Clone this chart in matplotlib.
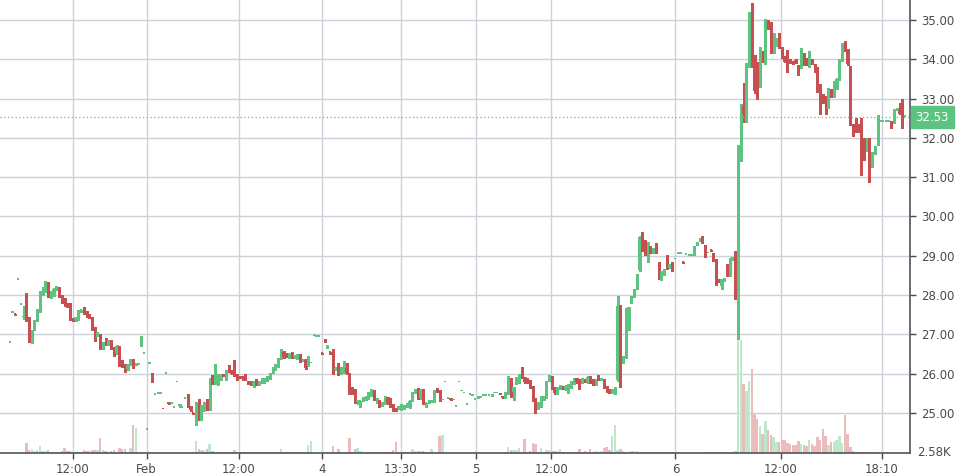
import numpy as np
import matplotlib
matplotlib.use("Agg")
import matplotlib.pyplot as plt
import matplotlib.transforms as mtransforms

# OHLC per bar
opens = [
    26.79, 27.55, 27.51, 28.39, 27.75, 27.43, 27.46, 27.41, 26.82, 27.14,
    27.37, 27.58, 28.01, 28.09, 28.28, 28.04, 28.05, 28.16, 28.17, 27.98,
    27.83, 27.79, 27.79, 27.40, 27.37, 27.38, 27.59, 27.62, 27.58, 27.50,
    27.41, 27.16, 26.98, 26.99, 26.65, 26.79, 26.75, 26.84, 26.65, 26.52,
    26.69, 26.23, 26.22, 26.13, 26.23, 26.34, 26.22, 26.23, 26.71, 26.50,
    24.56, 26.25, 26.01, 25.46, 25.48, 25.48, 25.11, 26.00, 25.26, 25.24,
    25.12, 25.78, 25.18, 25.12, 25.36, 25.46, 25.17, 25.00, 24.87, 25.18,
    24.85, 25.10, 25.27, 25.12, 25.82, 25.76, 25.79, 25.86, 25.98, 25.86,
    26.09, 26.07, 26.04, 25.98, 25.93, 25.93, 25.94, 25.80, 25.79, 25.72,
    25.82, 25.74, 25.78, 25.78, 25.84, 25.88, 26.03, 26.12, 26.19, 26.38,
    26.56, 26.50, 26.42, 26.51, 26.42, 26.40, 26.44, 26.33, 26.35, 26.22,
    26.26, 26.97, 26.94, 26.93, 26.53, 26.88, 26.67, 26.55, 26.32, 26.10,
    26.20, 26.00, 26.03, 26.15, 26.00, 25.63, 25.58, 25.28, 25.28, 25.33,
    25.35, 25.38, 25.46, 25.56, 25.32, 25.31, 25.20, 25.25, 25.39, 25.35,
    25.21, 25.10, 25.11, 25.13, 25.12, 25.16, 25.14, 25.33, 25.53, 25.61,
    25.37, 25.58, 25.23, 25.27, 25.29, 25.31, 25.57, 25.57, 25.32, 25.78,
    25.36, 25.37, 25.32, 25.15, 25.78, 25.55, 25.50, 25.21, 25.45, 25.43,
    25.33, 25.38, 25.38, 25.43, 25.43, 25.43, 25.43, 25.50, 25.50, 25.50,
    25.43, 25.40, 25.50, 25.85, 25.54, 25.76, 25.79, 25.96, 25.89, 25.86,
    25.81, 25.67, 25.37, 25.18, 25.20, 25.34, 25.41, 25.84, 25.91, 25.63,
    25.50, 25.63, 25.67, 25.60, 25.64, 25.66, 25.75, 25.88, 25.84, 25.79,
    25.84, 25.79, 25.93, 25.84, 25.72, 25.88, 25.85, 25.85, 25.66, 25.58,
    25.52, 25.50, 25.84, 27.70, 26.30, 26.43, 27.66, 27.83, 27.96, 28.17,
    28.64, 29.45, 29.38, 29.09, 29.22, 29.10, 29.30, 28.82, 28.40, 28.53,
    29.00, 28.70, 28.82, 28.91, 29.04, 29.04, 28.84, 29.03, 29.00, 29.00,
    29.04, 29.30, 29.40, 29.44, 29.19, 29.06, 29.15, 29.06, 28.90, 28.40,
    28.22, 28.38, 28.78, 28.51, 28.90, 29.08, 27.96, 31.73, 32.81, 32.58,
    33.85, 35.17, 33.85, 33.90, 33.32, 34.17, 33.90, 34.83, 34.79, 34.17,
    34.36, 34.49, 34.29, 34.06, 34.00, 33.98, 33.94, 33.98, 33.83, 33.81,
    34.15, 34.02, 33.83, 34.00, 33.86, 33.69, 33.35, 33.10, 33.05, 32.79,
    33.22, 33.06, 33.26, 33.49, 33.98, 34.40, 34.24, 33.77, 32.33, 32.33,
    32.33, 32.03, 31.99, 31.68, 31.99, 31.27, 31.61, 31.85, 32.41, 32.41,
    32.41, 32.41, 32.41, 32.41, 32.72, 32.72, 32.98, 32.53,
]
highs = [
    26.79, 27.55, 27.51, 28.39, 27.75, 27.72, 28.05, 27.45, 27.12, 27.36,
    27.65, 28.10, 28.20, 28.36, 28.32, 28.10, 28.18, 28.24, 28.20, 28.00,
    27.92, 27.80, 27.80, 27.42, 27.45, 27.62, 27.63, 27.70, 27.60, 27.52,
    27.43, 27.18, 27.05, 27.00, 26.80, 26.90, 26.86, 26.86, 26.68, 26.73,
    26.71, 26.35, 26.24, 26.25, 26.37, 26.36, 26.24, 26.23, 26.95, 26.50,
    24.56, 26.25, 26.02, 25.46, 25.48, 25.48, 25.11, 26.00, 25.26, 25.27,
    25.12, 25.78, 25.22, 25.12, 25.36, 25.47, 25.18, 25.01, 25.28, 25.35,
    25.20, 25.28, 25.35, 25.90, 25.96, 26.24, 25.98, 25.99, 26.00, 26.10,
    26.22, 26.09, 26.35, 26.00, 25.95, 25.95, 26.00, 25.82, 25.81, 25.80,
    25.86, 25.80, 25.90, 25.88, 25.95, 26.02, 26.16, 26.25, 26.40, 26.62,
    26.58, 26.52, 26.52, 26.54, 26.46, 26.50, 26.50, 26.36, 26.37, 26.45,
    26.26, 26.97, 26.94, 26.93, 26.53, 26.89, 26.74, 26.56, 26.62, 26.17,
    26.26, 26.16, 26.31, 26.27, 26.02, 25.65, 25.60, 25.31, 25.31, 25.41,
    25.43, 25.53, 25.60, 25.58, 25.38, 25.33, 25.27, 25.43, 25.41, 25.37,
    25.23, 25.12, 25.18, 25.22, 25.20, 25.24, 25.33, 25.52, 25.62, 25.63,
    25.60, 25.60, 25.26, 25.33, 25.32, 25.58, 25.64, 25.59, 25.32, 25.78,
    25.36, 25.37, 25.33, 25.15, 25.78, 25.55, 25.50, 25.21, 25.45, 25.43,
    25.33, 25.42, 25.38, 25.43, 25.43, 25.43, 25.48, 25.50, 25.50, 25.50,
    25.43, 25.52, 25.94, 25.88, 25.67, 25.92, 25.98, 26.17, 25.92, 25.90,
    25.83, 25.69, 25.39, 25.28, 25.43, 25.43, 25.80, 25.97, 25.93, 25.65,
    25.65, 25.70, 25.69, 25.70, 25.73, 25.81, 25.89, 25.90, 25.86, 25.90,
    25.86, 25.94, 25.95, 25.86, 25.86, 25.97, 25.90, 25.87, 25.68, 25.60,
    25.62, 25.65, 27.97, 27.75, 26.45, 27.68, 27.70, 27.98, 28.16, 28.53,
    29.51, 29.60, 29.40, 29.34, 29.24, 29.20, 29.32, 28.84, 28.62, 28.66,
    29.02, 28.80, 28.84, 28.91, 29.04, 29.04, 28.84, 29.03, 29.00, 29.00,
    29.24, 29.36, 29.43, 29.50, 29.28, 29.06, 29.15, 29.08, 28.92, 28.42,
    28.42, 28.43, 28.80, 28.94, 28.98, 29.12, 31.82, 32.86, 33.39, 33.90,
    35.20, 35.44, 34.10, 33.92, 34.32, 34.20, 35.03, 35.00, 34.95, 34.66,
    34.55, 34.66, 34.31, 34.08, 34.25, 34.00, 33.96, 34.00, 33.85, 34.28,
    34.17, 34.04, 34.22, 34.02, 33.88, 33.81, 33.37, 33.12, 33.07, 33.28,
    33.24, 33.45, 33.52, 34.00, 34.42, 34.47, 34.26, 33.83, 32.35, 32.50,
    32.35, 32.50, 32.01, 32.00, 32.01, 31.63, 31.80, 32.58, 32.41, 32.41,
    32.41, 32.41, 32.43, 32.73, 32.75, 32.90, 33.00, 32.53,
]
lows = [
    26.79, 27.55, 27.49, 28.39, 27.75, 27.40, 27.33, 26.80, 26.78, 27.12,
    27.35, 27.56, 28.00, 28.07, 27.96, 27.92, 27.98, 28.14, 27.96, 27.80,
    27.72, 27.70, 27.36, 27.35, 27.35, 27.36, 27.57, 27.52, 27.45, 27.42,
    27.12, 26.83, 26.96, 26.62, 26.63, 26.73, 26.72, 26.62, 26.45, 26.50,
    26.20, 26.18, 26.05, 26.10, 26.21, 26.15, 26.21, 26.23, 26.70, 26.50,
    24.56, 26.25, 25.78, 25.46, 25.48, 25.48, 25.09, 26.00, 25.23, 25.24,
    25.12, 25.78, 25.16, 25.12, 25.36, 25.14, 25.05, 24.96, 24.69, 24.82,
    24.82, 25.05, 25.08, 25.08, 25.74, 25.74, 25.70, 25.84, 25.94, 25.84,
    26.05, 25.98, 25.93, 25.84, 25.88, 25.85, 25.83, 25.73, 25.70, 25.65,
    25.70, 25.72, 25.76, 25.76, 25.82, 25.86, 26.01, 26.10, 26.17, 26.36,
    26.40, 26.42, 26.40, 26.40, 26.40, 26.38, 26.30, 26.31, 26.12, 26.20,
    26.26, 26.97, 26.94, 26.93, 26.51, 26.80, 26.65, 26.50, 26.00, 26.08,
    25.97, 25.98, 26.01, 25.99, 25.47, 25.49, 25.26, 25.22, 25.14, 25.31,
    25.33, 25.36, 25.44, 25.33, 25.24, 25.16, 25.18, 25.23, 25.22, 25.16,
    25.06, 25.06, 25.09, 25.08, 25.10, 25.14, 25.12, 25.31, 25.51, 25.35,
    25.35, 25.22, 25.14, 25.25, 25.27, 25.29, 25.54, 25.30, 25.32, 25.78,
    25.36, 25.34, 25.32, 25.15, 25.78, 25.55, 25.50, 25.21, 25.45, 25.43,
    25.33, 25.38, 25.38, 25.43, 25.43, 25.43, 25.43, 25.50, 25.50, 25.47,
    25.38, 25.38, 25.48, 25.40, 25.34, 25.74, 25.77, 25.90, 25.77, 25.75,
    25.63, 25.31, 25.00, 25.10, 25.15, 25.32, 25.39, 25.82, 25.61, 25.48,
    25.48, 25.61, 25.60, 25.58, 25.50, 25.64, 25.73, 25.77, 25.60, 25.77,
    25.78, 25.77, 25.77, 25.70, 25.70, 25.83, 25.83, 25.64, 25.54, 25.50,
    25.50, 25.48, 25.80, 25.66, 26.28, 26.40, 27.10, 27.80, 27.94, 28.15,
    28.60, 29.12, 29.02, 28.85, 29.08, 29.08, 29.08, 28.40, 28.38, 28.51,
    28.67, 28.68, 28.60, 28.91, 29.04, 29.04, 28.82, 29.03, 29.00, 29.00,
    29.02, 29.28, 29.38, 29.33, 28.98, 29.06, 29.13, 28.86, 28.26, 28.33,
    28.15, 28.36, 28.49, 28.49, 28.88, 27.90, 26.88, 31.41, 32.41, 32.40,
    33.80, 33.80, 33.15, 32.98, 33.30, 33.94, 33.88, 34.78, 34.15, 34.15,
    34.34, 34.30, 34.03, 33.92, 33.68, 33.90, 33.89, 33.90, 33.60, 33.79,
    33.86, 33.86, 33.81, 33.88, 33.67, 33.18, 32.60, 32.88, 32.60, 32.77,
    33.03, 33.04, 33.24, 33.47, 33.96, 34.22, 33.86, 32.33, 32.05, 32.14,
    32.14, 31.06, 31.45, 31.66, 30.88, 31.25, 31.59, 31.83, 32.41, 32.41,
    32.41, 32.41, 32.26, 32.39, 32.70, 32.60, 32.26, 32.53,
]
closes = [
    26.79, 27.55, 27.49, 28.39, 27.75, 27.46, 27.44, 26.86, 27.11, 27.33,
    27.60, 28.01, 28.14, 28.30, 27.98, 28.08, 28.16, 28.21, 27.98, 27.83,
    27.77, 27.72, 27.38, 27.37, 27.43, 27.60, 27.61, 27.55, 27.48, 27.43,
    27.15, 27.00, 27.02, 26.65, 26.77, 26.75, 26.84, 26.65, 26.48, 26.71,
    26.22, 26.21, 26.12, 26.23, 26.35, 26.22, 26.23, 26.23, 26.94, 26.50,
    24.56, 26.25, 25.80, 25.46, 25.48, 25.48, 25.09, 26.00, 25.23, 25.27,
    25.12, 25.78, 25.21, 25.12, 25.36, 25.16, 25.07, 24.97, 25.18, 24.84,
    25.19, 25.25, 25.14, 25.88, 25.76, 25.86, 25.95, 25.96, 25.95, 26.09,
    26.06, 26.00, 25.95, 25.86, 25.90, 25.87, 25.85, 25.75, 25.72, 25.79,
    25.72, 25.78, 25.86, 25.86, 25.93, 26.01, 26.14, 26.23, 26.38, 26.56,
    26.42, 26.44, 26.50, 26.42, 26.44, 26.44, 26.32, 26.35, 26.14, 26.35,
    26.26, 26.97, 26.94, 26.93, 26.51, 26.82, 26.73, 26.52, 26.08, 26.15,
    26.00, 26.14, 26.29, 26.01, 25.63, 25.51, 25.28, 25.30, 25.30, 25.39,
    25.42, 25.51, 25.58, 25.35, 25.36, 25.18, 25.25, 25.41, 25.24, 25.18,
    25.08, 25.08, 25.17, 25.20, 25.18, 25.22, 25.31, 25.50, 25.59, 25.37,
    25.58, 25.24, 25.25, 25.31, 25.30, 25.56, 25.55, 25.32, 25.32, 25.78,
    25.36, 25.34, 25.33, 25.15, 25.78, 25.55, 25.50, 25.21, 25.45, 25.43,
    25.33, 25.42, 25.38, 25.43, 25.43, 25.43, 25.48, 25.50, 25.50, 25.47,
    25.38, 25.50, 25.92, 25.55, 25.67, 25.90, 25.96, 25.92, 25.79, 25.78,
    25.65, 25.33, 25.20, 25.26, 25.41, 25.41, 25.77, 25.92, 25.63, 25.50,
    25.63, 25.68, 25.62, 25.68, 25.72, 25.79, 25.88, 25.79, 25.75, 25.88,
    25.80, 25.92, 25.79, 25.72, 25.84, 25.85, 25.88, 25.66, 25.56, 25.52,
    25.60, 25.63, 27.72, 26.39, 26.43, 27.66, 27.69, 27.96, 28.14, 28.51,
    29.49, 29.15, 29.05, 29.32, 29.10, 29.18, 29.10, 28.43, 28.60, 28.64,
    28.69, 28.78, 28.62, 28.91, 29.04, 29.04, 28.82, 29.03, 29.00, 29.00,
    29.23, 29.35, 29.42, 29.35, 29.00, 29.06, 29.13, 28.88, 28.28, 28.35,
    28.40, 28.41, 28.51, 28.92, 28.96, 27.96, 31.56, 32.78, 32.61, 33.85,
    35.17, 33.85, 33.20, 33.00, 34.19, 33.96, 34.83, 34.80, 34.17, 34.32,
    34.41, 34.32, 34.05, 33.94, 33.90, 33.92, 33.91, 33.92, 33.71, 34.25,
    33.88, 33.88, 34.07, 33.90, 33.69, 33.26, 32.97, 32.90, 32.85, 33.26,
    33.05, 33.26, 33.50, 33.98, 34.39, 34.24, 33.88, 32.35, 32.28, 32.16,
    32.16, 31.59, 31.59, 31.98, 30.97, 31.61, 31.78, 32.00, 32.41, 32.41,
    32.41, 32.41, 32.28, 32.71, 32.74, 32.62, 32.28, 32.53,
]
volumes = [
    0, 0, 0, 0, 0, 0, 10, 3.3, 4.3, 2,
    2.7, 6.7, 2, 2, 2.7, 1, 1, 1, 1, 1.5,
    4.7, 1.5, 1.5, 0.5, 0.5, 0.5, 0.5, 2.7, 1.5, 2,
    2.7, 3.3, 3.3, 14.7, 2.7, 2, 1, 2, 3.3, 1,
    5.3, 4, 4, 1, 5.3, 27.7, 24.7, 0, 0, 0,
    0, 0, 0, 0, 0, 0, 0, 0, 0, 0,
    0, 0, 0, 0, 0, 0, 0, 0.5, 11.7, 4.3,
    2.7, 3.3, 4.3, 8.7, 1.5, 1, 1, 1, 1, 1,
    1, 1, 2.7, 1, 1, 1, 1, 1, 1, 0.5,
    1, 0.5, 0.5, 0.5, 0.5, 1, 1, 1, 1, 4.3,
    1, 1, 0.5, 0.5, 0.5, 0.5, 1, 1, 1, 7.7,
    11.7, 0, 0, 0, 0, 0, 0, 0, 6.7, 1,
    4.3, 1, 1, 1, 15.3, 1, 4.3, 5.3, 2, 1,
    1, 1, 0.5, 0.5, 0.5, 1, 1, 1, 1, 1,
    2.7, 10.7, 0.5, 0.5, 0.5, 0.5, 1, 3.7, 2, 2,
    2, 2, 1, 1, 4, 1, 1, 16.7, 17.7, 0,
    0, 0, 0, 0, 0, 0, 0, 0, 0, 0,
    0, 0, 0, 0, 0, 0, 0, 0, 0, 0,
    0, 0.5, 6, 3.3, 3.3, 3.3, 5.3, 1, 13.7, 1,
    2, 10.3, 9.3, 1, 5.3, 1, 2.7, 2.7, 2, 2,
    2, 4.3, 1, 1, 1, 1, 1, 1, 4.3, 1,
    1.5, 1, 4.3, 1, 2, 1, 2, 5.3, 6, 3,
    16.7, 27.7, 3, 4, 2, 1, 1, 2, 2, 2,
    1, 1, 1, 1, 0.5, 0.5, 0.5, 0.5, 0.5, 0.5,
    0.5, 0.5, 0.5, 0, 0, 0, 0, 0, 0, 0,
    0, 0, 0, 0, 0.7, 0.7, 0.7, 0.7, 0.7, 0.7,
    0.7, 0.7, 0.7, 0.7, 0.7, 1.5, 112.7, 112.7, 69.3, 61.7,
    71.7, 83.7, 39.3, 34.3, 26.7, 19.3, 32, 22.7, 17.7, 16,
    11, 11, 13.3, 12.7, 10, 8.7, 7.7, 7.7, 12, 9.3,
    7.7, 6.7, 12.7, 9, 7, 16, 12.7, 24.3, 16.7, 8,
    11, 11, 12.7, 16.7, 10, 37.7, 19.3, 6, 2, 1,
    1, 1, 0.7, 0.5, 0.5, 0.5, 0.3, 0, 0, 0,
    0, 0, 0, 0, 0, 0, 0, 0,
]

# time labels sit on the bar they belong to
tick_pos = [23, 50, 83.6, 114.2, 142.7, 170.3, 197.8, 243.1, 281.6, 318.4]
tick_labels = ['12:00', 'Feb', '12:00', '4', '13:30', '5', '12:00', '6', '12:00', '18:10']
price_ticks = [25, 26, 27, 28, 29, 30, 31, 32, 33, 34, 35]
last_price = 32.53
vol_label = '2.58K'

up_color = '#5cc480'
down_color = '#c84f4f'
up_vol = '#bfe7cb'
down_vol = '#eabcbc'
grid_color = '#cdd1da'
text_color = '#4a4a4a'

o = np.array(opens)
h = np.array(highs)
l = np.array(lows)
c = np.array(closes)
v = np.array(volumes)
x = np.arange(len(o))
rising = c >= o

fig = plt.figure(figsize=(9.63, 4.76), dpi=100)
ax = fig.add_axes([0, 23 / 476, 910 / 963, 453 / 476])

ax.set_xlim(-3.6, len(o) + 0.8)
ax.set_ylim(23.98, 35.51)
ax.grid(True, color=grid_color, linewidth=1.0, zorder=0)
ax.set_axisbelow(True)

# volume in the bottom quarter of the panel
vtrans = mtransforms.blended_transform_factory(ax.transData, ax.transAxes)
vh = v / v.max() * 0.249
ax.bar(x, vh, width=0.9, bottom=0, color=np.where(rising, up_vol, down_vol),
       transform=vtrans, zorder=1, linewidth=0, antialiased=False)

# candles
colors = np.where(rising, up_color, down_color)
ax.vlines(x, l, h, colors=colors, linewidth=1.0, zorder=2, antialiased=False)
body_low = np.minimum(o, c)
body_h = np.maximum(np.abs(c - o), 0.045)
ax.bar(x, body_h, width=0.85, bottom=body_low, color=colors, linewidth=0,
       zorder=3, antialiased=False)

# last price line and tag
ax.axhline(last_price, color=up_color, linestyle=(0, (1, 2)), linewidth=0.9, zorder=4)
ptrans = mtransforms.blended_transform_factory(ax.transAxes, ax.transData)
ax.text(1.006, last_price, f'{last_price:.2f}', transform=ptrans, ha='left', va='center',
        color='white', fontsize=8.5, clip_on=False, zorder=6,
        bbox=dict(boxstyle='square,pad=0.4', facecolor=up_color, edgecolor=up_color))
ax.text(1.008, 0.0, vol_label, transform=ax.transAxes, ha='left', va='center',
        color=text_color, fontsize=8.5, clip_on=False)

ax.yaxis.tick_right()
ax.set_yticks(price_ticks)
ax.set_yticklabels([f'{p:.2f}' for p in price_ticks])
ax.set_xticks(tick_pos)
ax.set_xticklabels(tick_labels)
ax.tick_params(axis='both', colors=text_color, labelsize=8.5, length=4, width=1)
ax.tick_params(axis='x', pad=3)
ax.tick_params(axis='y', pad=4)

for side in ['top', 'left']:
    ax.spines[side].set_visible(False)
for side in ['right', 'bottom']:
    ax.spines[side].set_color('#50535e')
    ax.spines[side].set_linewidth(1.2)

fig.savefig('out.png', dpi=100, facecolor='white')
